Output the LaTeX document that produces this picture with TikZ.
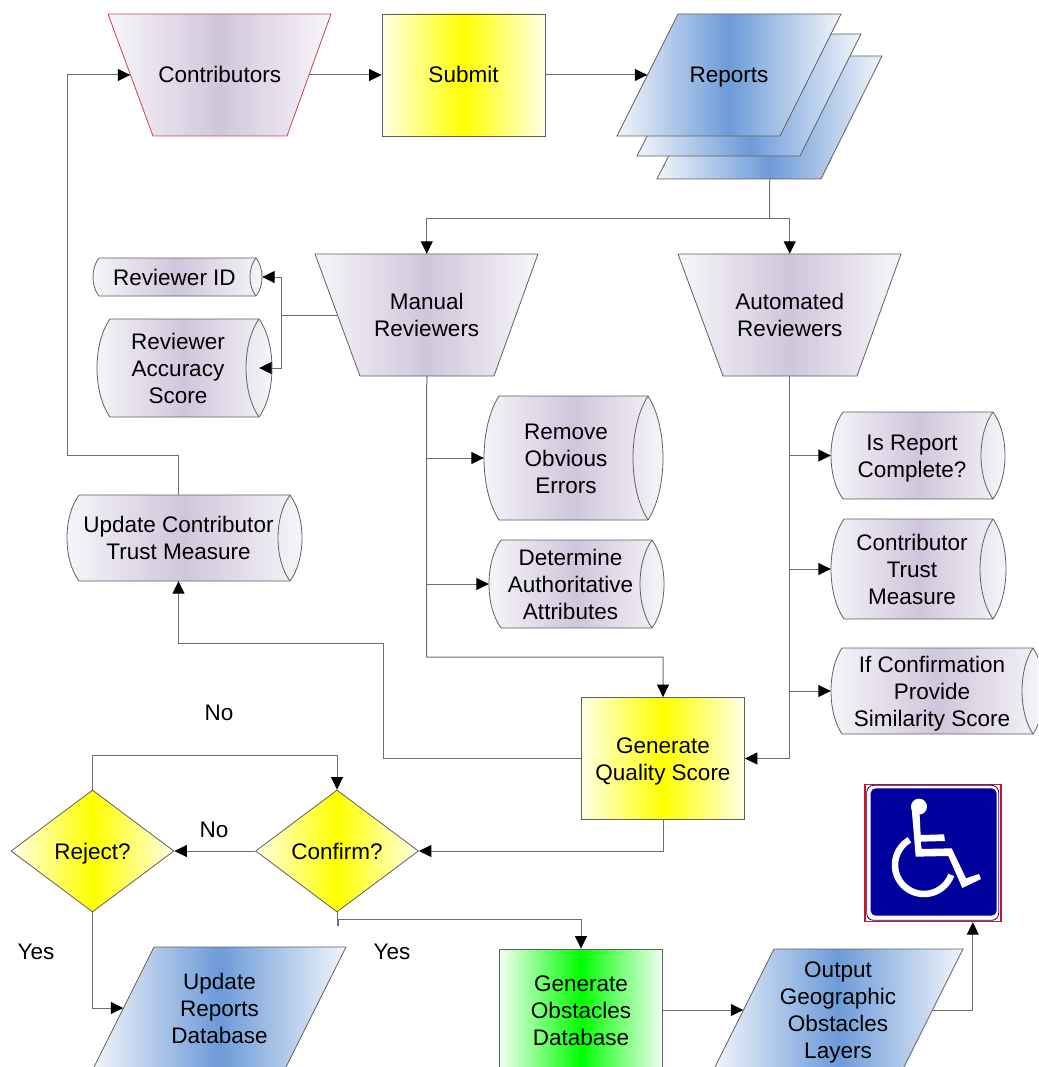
\documentclass[tikz,border=0pt]{standalone}
\usepackage{fontspec}
\setmainfont{Liberation Sans}
\usetikzlibrary{shapes.geometric,arrows.meta}
\definecolor{lilacEnd}{HTML}{F8F6FA}
\definecolor{lilacMid}{HTML}{CFC6DC}
\definecolor{blueEnd}{HTML}{F2F5FB}
\definecolor{blueMid}{HTML}{6C9BD8}
\definecolor{yelEnd}{HTML}{FFFFE6}
\definecolor{yelMid}{HTML}{FFFF00}
\definecolor{greEnd}{HTML}{F2FFF2}
\definecolor{greMid}{HTML}{00FF00}
\definecolor{edgeGray}{HTML}{606060}
\definecolor{lineGray}{HTML}{6E6E6E}
\definecolor{redEdge}{HTML}{C8474A}
\definecolor{signBlue}{HTML}{00009C}
\definecolor{signRed}{HTML}{C8141E}
\newcommand{\txtrule}{\rule[-5pt]{0pt}{26pt}}
\newcommand{\bt}[1]{\txtrule #1\txtrule}
\tikzset{
  lilacfill/.style={left color=lilacEnd,right color=lilacEnd,middle color=lilacMid},
  bluefill/.style={left color=blueEnd,right color=blueEnd,middle color=blueMid},
  yelfill/.style={left color=yelEnd,right color=yelEnd,middle color=yelMid},
  grefill/.style={left color=greEnd,right color=greEnd,middle color=greMid},
  txt/.style={font=\fontsize{22.5}{27}\selectfont,align=center,inner sep=0pt,text=black},
  outl/.style={draw=edgeGray,line width=0.8pt},
  boxn/.style={txt,outl,rectangle,minimum width=163pt,minimum height=122pt,yelfill},
  dia/.style={txt,outl,diamond,aspect=1.336,minimum width=163pt,minimum height=122pt,yelfill},
  conn/.style={draw=lineGray,line width=1pt,-{Triangle[width=12pt,length=12.5pt,black]}},
  plainconn/.style={draw=lineGray,line width=1pt},
}
% style, name, xTL, xTR, xBL, xBR, yT, yB, text
\newcommand{\polyshape}[9]{%
  \path[outl,#1] (#3,#7) -- (#4,#7) -- (#6,#8) -- (#5,#8) -- cycle;
  \pgfmathsetmacro{\polycx}{(#3+#4+#5+#6)/4}\pgfmathsetmacro{\polycy}{(#7+#8)/2}%
  \pgfmathsetmacro{\polyw}{(#4+#6-#3-#5)/2}\pgfmathsetmacro{\polyh}{#8-#7}%
  \node[txt,rectangle,minimum width=\polyw pt,minimum height=\polyh pt] (#2) at (\polycx,\polycy) {\txtrule #9\txtrule};
}
% name, left extreme, top, right extreme, bottom, depth, text
\newcommand{\cylshape}[7]{%
  \pgfmathsetmacro{\cylxa}{#2+#6}\pgfmathsetmacro{\cylxb}{#4-#6}%
  \pgfmathsetmacro{\cylc}{#6*4/3}%
  \pgfmathsetmacro{\cylya}{#3+(#5-#3)*.25}\pgfmathsetmacro{\cylyb}{#5-(#5-#3)*.25}%
  \pgfmathsetmacro{\cylxam}{\cylxa-\cylc}\pgfmathsetmacro{\cylxbp}{\cylxb+\cylc}\pgfmathsetmacro{\cylxbm}{\cylxb-\cylc}%
  \path[outl,lilacfill] (\cylxa,#3) -- (\cylxb,#3) .. controls (\cylxbp,\cylya) and (\cylxbp,\cylyb) .. (\cylxb,#5) -- (\cylxa,#5) .. controls (\cylxam,\cylyb) and (\cylxam,\cylya) .. cycle;
  \draw[outl] (\cylxb,#3) .. controls (\cylxbm,\cylya) and (\cylxbm,\cylyb) .. (\cylxb,#5);
  \pgfmathsetmacro{\cylcx}{(#2+\cylxb)/2}\pgfmathsetmacro{\cylcy}{(#3+#5)/2}%
  \pgfmathsetmacro{\cylw}{\cylxb-#2}\pgfmathsetmacro{\cylh}{#5-#3}%
  \node[txt,rectangle,minimum width=\cylw pt,minimum height=\cylh pt] (#1) at (\cylcx,\cylcy) {\txtrule #7\txtrule};
}
\begin{document}
\begin{tikzpicture}[x=1pt,y=-1pt]
\useasboundingbox (0,0) rectangle (1038,1067);
\clip (0,0) rectangle (1038,1067);

% top row
\polyshape{lilacfill,draw=redEdge}{contrib}{108}{331}{153}{287}{14}{136}{Contributors}
\node[boxn] (submit) at (463.5,75) {\bt{Submit}};
\polyshape{bluefill}{rep3}{719}{882}{657}{821}{56}{179}{}
\polyshape{bluefill}{rep2}{699}{861}{637}{800}{34}{156}{}
\polyshape{bluefill}{rep1}{678}{841}{617}{780}{14}{136}{Reports}

% reviewers
\polyshape{lilacfill}{man}{315}{538}{360}{494}{254}{376}{Manual\\Reviewers}
\polyshape{lilacfill}{auto}{678}{901}{723}{857}{254}{376}{Automated\\Reviewers}

% cylinders
\cylshape{rid}{93}{258}{262}{296}{6}{Reviewer ID}
\cylshape{rac}{97}{319}{272}{417}{13}{Reviewer\\Accuracy\\Score}
\cylshape{roe}{484}{396}{663}{520}{15}{Remove\\Obvious\\Errors}
\cylshape{daa}{489}{540}{664}{628}{12}{Determine\\Authoritative\\Attributes}
\cylshape{upd}{67}{495}{302}{581}{12}{Update Contributor\\Trust Measure}
\cylshape{irc}{831}{412}{1005}{499}{12}{Is Report\\Complete?}
\cylshape{ctm}{831}{519}{1006}{619}{13}{Contributor\\Trust\\Measure}
\cylshape{ifc}{831}{648}{1044}{734}{11}{If Confirmation\\Provide\\Similarity Score}

% lower boxes
\node[boxn] (gq) at (663,758.5) {\bt{Generate\\Quality Score}};
\node[dia] (conf) at (337,851) {\bt{Confirm?}};
\node[dia] (rej) at (92.5,851) {\bt{Reject?}};
\polyshape{bluefill}{urd}{154}{346}{93}{285}{947}{1069}{Update\\Reports\\Database}
\node[boxn,grefill] (gob) at (581,1010) {\bt{Generate\\Obstacles\\Database}};
\polyshape{bluefill}{out}{774}{963}{713}{902}{949}{1071}{Output\\Geographic\\Obstacles\\Layers}

% labels
\node[txt] (lno1) at (219,712) {\bt{No}};
\node[txt] (lno2) at (214,829) {\bt{No}};
\node[txt] (lyes1) at (36,951) {\bt{Yes}};
\node[txt] (lyes2) at (392,951) {\bt{Yes}};

% sign
\node[draw=signRed,line width=1.4pt,fill=white,rectangle,minimum width=136pt,minimum height=137pt,inner sep=0pt] (sign) at (932.8,853) {};
\begin{scope}[shift={(850,770)},x=0.3333pt,y=-0.3333pt]
  \draw[signBlue,line width=0.8pt,fill=white,rounded corners=7pt] (50,46) rectangle (446,451);
  \fill[signBlue,rounded corners=5pt] (62,55) rectangle (440,437);
  \fill[white] (207,110) circle[radius=8pt];
  \fill[white] (185,115) -- (197,260) -- (295,258) -- (337,354) -- (393,327) -- (387,312) -- (348,325) -- (305,235) -- (215,237) -- (212,215) -- (285,213) -- (282,193) -- (212,195) -- (208,115) -- cycle;
  \draw[white,line width=6.5pt,domain=120:340,samples=50] plot ({222+87*cos(\x)},{285-87*sin(\x)});
\end{scope}

% connector junctions
\coordinate (split) at (769.5,219);
\coordinate (mj) at (281,315);
\coordinate (qj) at (426.5,657);
\coordinate (ga) at (383,643);
\coordinate (ub) at (67,455);
\coordinate (rt) at (92.5,755);
\coordinate (j1) at (337,925);
\coordinate (j2) at (338.5,925);
\coordinate (j3) at (338.5,919);

% connectors
\draw[conn] (contrib.east) -- (submit.west);
\draw[conn] (submit.east) -- (rep1.west);
\draw[plainconn] (rep3.south) -- (split);
\draw[conn] (split) -| (man.north);
\draw[conn] (split) -| (auto.north);
\draw[plainconn] (man.west) -- (mj);
\draw[conn] (mj) |- ([xshift=6pt]rid.east);
\draw[conn] (mj) |- (rac.east);
\draw[conn] (man.south) -- (qj) -| (gq.north);
\draw[conn] (man.south |- roe.west) -- (roe.west);
\draw[conn] (man.south |- daa.west) -- (daa.west);
\draw[conn] (auto.south) |- (gq.east);
\draw[conn] (auto.south |- irc.west) -- (irc.west);
\draw[conn] (auto.south |- ctm.west) -- (ctm.west);
\draw[conn] (auto.south |- ifc.west) -- (ifc.west);
\draw[conn] (gq.west) -| (ga) -| (upd.south);
\draw[conn] (upd.north) |- (ub) |- (contrib.west);
\draw[conn] (gq.south) |- (conf.east);
\draw[conn] (conf.west) -- (rej.east);
\draw[conn] (rej.north) |- (rt) -| (conf.north);
\draw[conn] (rej.south) |- (urd.west);
\draw[conn] (conf.south) -- (j1) -- (j2) -- (j3) -| (gob.north);
\draw[conn] (gob.east) -- (out.west);
\draw[conn] (out.east) -| ([xshift=40pt]sign.south);
\end{tikzpicture}
\end{document}
